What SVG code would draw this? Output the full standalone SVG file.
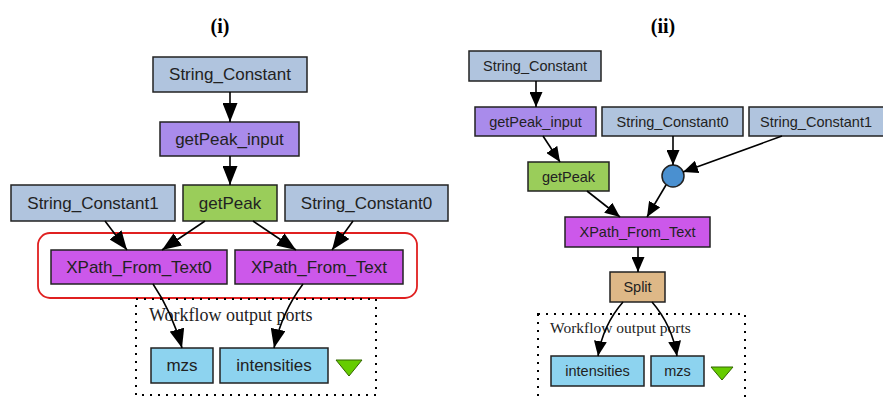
<svg xmlns="http://www.w3.org/2000/svg" width="883" height="397" viewBox="0 0 883 397">
<style>
.n rect{stroke:#222;stroke-width:1.5}
.sc{fill:#b0c4de}.gi{fill:#a98beb}.gp{fill:#9acd5a}.xp{fill:#cc58ea}.sp{fill:#deb887}.op{fill:#8dd3ef}
.l{font-family:"Liberation Sans",Arial,sans-serif;font-size:17px;fill:#222;text-anchor:middle}
.r{font-family:"Liberation Sans",Arial,sans-serif;font-size:14.5px;fill:#222;text-anchor:middle}
.t{font-family:"Liberation Serif","Times New Roman",serif;font-weight:bold;font-size:20px;fill:#000;text-anchor:middle}
.w{font-family:"Liberation Serif","Times New Roman",serif;fill:#222}
.e path{fill:none;stroke:#000;stroke-width:1.6}
.e .a{marker-end:url(#a)}
.e .b{marker-end:url(#b)}
.dot{fill:none;stroke:#000;stroke-width:2;stroke-dasharray:2,6}
</style>
<defs>
<marker id="a" viewBox="0 0 19 15" refX="19" refY="7.5" markerWidth="19" markerHeight="15" markerUnits="userSpaceOnUse" orient="auto">
<path d="M0,0L19,7.5L0,15z" fill="#000"/>
</marker>
<marker id="b" viewBox="0 0 15 13" refX="15" refY="6.5" markerWidth="15" markerHeight="13" markerUnits="userSpaceOnUse" orient="auto">
<path d="M0,0L15,6.5L0,13z" fill="#000"/>
</marker>
</defs>
<rect width="883" height="397" fill="#fff"/>
<text class="t" x="220" y="33">(i)</text>
<text class="t" x="663" y="33">(ii)</text>

<!-- left panel decorations -->
<rect x="38" y="233" width="379" height="65" rx="12" fill="none" stroke="#e02020" stroke-width="1.8"/>
<rect class="dot" x="136" y="299" width="240" height="96"/>
<text class="w" x="149" y="321" font-size="18">Workflow output ports</text>
<polygon points="336,360 362,360 349,376" fill="#66cc00" stroke="#336600" stroke-width="1"/>

<!-- right panel decorations -->
<rect class="dot" x="538" y="314" width="207" height="90"/>
<text class="w" x="550" y="333" font-size="15.5">Workflow output ports</text>
<polygon points="711,367 733,367 722,380" fill="#66cc00" stroke="#336600" stroke-width="1"/>

<g id="L_String_Constant" class="n"><rect class="sc" x="153" y="57" width="154" height="35"/><text class="l" x="230" y="80">String_Constant</text></g>
<g id="L_getPeak_input" class="n"><rect class="gi" x="160" y="122" width="139" height="34"/><text class="l" x="229.5" y="145">getPeak_input</text></g>
<g id="L_String_Constant1" class="n"><rect class="sc" x="11" y="185" width="164" height="36"/><text class="l" x="93" y="209">String_Constant1</text></g>
<g id="L_getPeak" class="n"><rect class="gp" x="183" y="185" width="94" height="36"/><text class="l" x="230" y="209">getPeak</text></g>
<g id="L_String_Constant0" class="n"><rect class="sc" x="285" y="185" width="163" height="36"/><text class="l" x="366.5" y="209">String_Constant0</text></g>
<g id="L_XPath_From_Text0" class="n"><rect class="xp" x="51" y="250" width="176" height="34"/><text class="l" x="139" y="273">XPath_From_Text0</text></g>
<g id="L_XPath_From_Text" class="n"><rect class="xp" x="235" y="250" width="168" height="34"/><text class="l" x="319" y="273">XPath_From_Text</text></g>
<g id="L_mzs" class="n"><rect class="op" x="151" y="348" width="62" height="35"/><text class="l" x="182" y="371">mzs</text></g>
<g id="L_intensities" class="n"><rect class="op" x="220" y="348" width="108" height="35"/><text class="l" x="274" y="371">intensities</text></g>

<g id="R_String_Constant" class="n"><rect class="sc" x="469" y="51" width="132" height="30"/><text class="r" x="535" y="71">String_Constant</text></g>
<g id="R_getPeak_input" class="n"><rect class="gi" x="475" y="107" width="121" height="29"/><text class="r" x="535.5" y="127">getPeak_input</text></g>
<g id="R_String_Constant0" class="n"><rect class="sc" x="602" y="107" width="141" height="29"/><text class="r" x="672.5" y="127">String_Constant0</text></g>
<g id="R_String_Constant1" class="n"><rect class="sc" x="749" y="107" width="136" height="29"/><text class="r" x="816" y="127">String_Constant1</text></g>
<g id="R_getPeak" class="n"><rect class="gp" x="528" y="162" width="81" height="29"/><text class="r" x="568.5" y="182">getPeak</text></g>
<g id="R_merge" class="n"><circle cx="673" cy="176" r="11" fill="#4a90d0" stroke="#222" stroke-width="1.5"/></g>
<g id="R_XPath_From_Text" class="n"><rect class="xp" x="565" y="217" width="145" height="30"/><text class="r" x="637.5" y="237">XPath_From_Text</text></g>
<g id="R_Split" class="n"><rect class="sp" x="610" y="272" width="55" height="30"/><text class="r" x="637.5" y="292">Split</text></g>
<g id="R_intensities" class="n"><rect class="op" x="551" y="356" width="93" height="30"/><text class="r" x="597.5" y="376">intensities</text></g>
<g id="R_mzs" class="n"><rect class="op" x="651" y="356" width="53" height="30"/><text class="r" x="677.5" y="376">mzs</text></g>

<g id="connectors" class="e">
<path class="a" d="M230,92L230,122"/>
<path class="a" d="M230,156L230,185"/>
<path class="a" d="M105,221L127,250"/>
<path class="a" d="M205,221L162,250"/>
<path class="a" d="M253,221L296,250"/>
<path class="a" d="M353,221L332,250"/>
<path class="a" d="M153,284Q172,312 182,348"/>
<path class="a" d="M303,284Q282,312 274,348"/>
<path class="b" d="M536,81L536,107"/>
<path class="b" d="M543,136L560,162"/>
<path class="b" d="M673,136L673,165"/>
<path class="b" d="M782,136L683,172"/>
<path class="b" d="M587,191L620,217"/>
<path class="b" d="M666,185L647,217"/>
<path class="b" d="M638,247L638,272"/>
<path class="b" d="M623,302Q603,325 598,356"/>
<path class="b" d="M652,302Q672,325 677,356"/>
</g>
</svg>
